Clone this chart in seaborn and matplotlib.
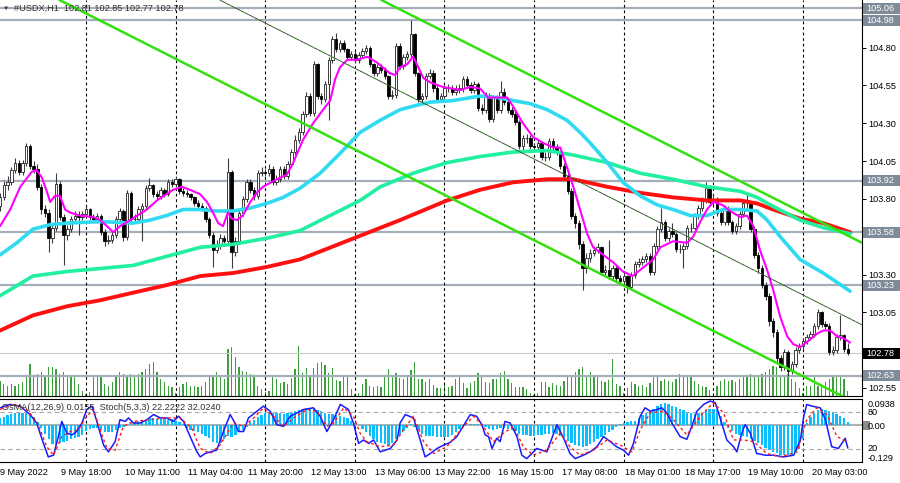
import numpy as np
import pandas as pd
import seaborn as sns
import matplotlib.pyplot as plt
from matplotlib.patches import Rectangle
from matplotlib import transforms

sns.set_theme(style="white")
plt.rcParams['font.family'] = ['Liberation Sans', 'DejaVu Sans']
FS = 6.6

# hourly bars: (day, first hour, number of bars)
days = [("9 May", 1, 23), ("10 May", 0, 24), ("11 May", 0, 24), ("12 May", 0, 24),
        ("13 May", 0, 24), ("16 May", 0, 24), ("17 May", 0, 24), ("18 May", 0, 24),
        ("19 May", 0, 24), ("20 May", 0, 13)]

tick_times = ["9 May 01:00", "9 May 18:00", "10 May 11:00", "11 May 04:00", "11 May 20:00",
              "12 May 13:00", "13 May 06:00", "13 May 22:00", "16 May 15:00", "17 May 08:00",
              "18 May 01:00", "18 May 17:00", "19 May 10:00", "20 May 03:00"]
tick_labels = ["9 May 2022"] + tick_times[1:]

opens = [103.75, 103.81, 103.89, 103.91, 103.99, 104.04, 103.98, 104.04, 104.15, 104.02, 104.00, 103.88,
         103.73, 103.71, 103.54, 103.61, 103.90, 103.68, 103.56, 103.60, 103.67, 103.69, 103.68, 103.70,
         103.73, 103.68, 103.67, 103.69, 103.58, 103.52, 103.53, 103.56, 103.67, 103.72, 103.55, 103.84,
         103.67, 103.67, 103.73, 103.75, 103.87, 103.89, 103.83, 103.82, 103.86, 103.83, 103.91, 103.90,
         103.93, 103.85, 103.84, 103.83, 103.81, 103.77, 103.75, 103.74, 103.67, 103.56, 103.46, 103.50,
         103.54, 103.52, 103.98, 103.45, 103.52, 103.71, 103.80, 103.91, 103.86, 103.82, 103.97, 103.98,
         103.97, 104.00, 103.91, 103.93, 104.00, 103.95, 104.03, 104.11, 104.19, 104.24, 104.36, 104.48,
         104.37, 104.69, 104.48, 104.46, 104.56, 104.72, 104.86, 104.79, 104.83, 104.79, 104.74, 104.76,
         104.72, 104.75, 104.78, 104.80, 104.69, 104.63, 104.67, 104.65, 104.61, 104.48, 104.49, 104.81,
         104.68, 104.74, 104.76, 104.89, 104.63, 104.46, 104.48, 104.61, 104.63, 104.53, 104.46, 104.48,
         104.53, 104.53, 104.51, 104.52, 104.53, 104.59, 104.55, 104.52, 104.56, 104.40, 104.39, 104.49,
         104.33, 104.47, 104.39, 104.51, 104.44, 104.39, 104.36, 104.31, 104.15, 104.20, 104.20, 104.15,
         104.14, 104.17, 104.08, 104.08, 104.18, 104.14, 104.11, 104.02, 103.95, 103.85, 103.69, 103.64,
         103.50, 103.34, 103.41, 103.44, 103.46, 103.48, 103.32, 103.33, 103.29, 103.34, 103.28, 103.26,
         103.29, 103.22, 103.30, 103.37, 103.38, 103.40, 103.42, 103.32, 103.49, 103.60, 103.65, 103.54,
         103.59, 103.57, 103.47, 103.47, 103.49, 103.61, 103.61, 103.69, 103.74, 103.79, 103.87, 103.78,
         103.80, 103.71, 103.65, 103.74, 103.65, 103.59, 103.62, 103.70, 103.77, 103.77, 103.60, 103.43,
         103.34, 103.23, 103.16, 102.99, 102.92, 102.75, 102.69, 102.79, 102.66, 102.71, 102.80, 102.83,
         102.86, 102.89, 102.91, 102.96, 103.05, 102.97, 102.96, 102.79, 102.80, 102.89, 102.90, 102.81]

highs = [103.84, 103.92, 103.95, 104.01, 104.07, 104.06, 104.06, 104.17, 104.16, 104.05, 104.03, 103.90,
         103.76, 103.73, 103.64, 103.97, 103.92, 103.70, 103.63, 103.69, 103.72, 103.72, 103.72, 103.75,
         103.74, 103.70, 103.71, 103.70, 103.60, 103.56, 103.58, 103.69, 103.74, 103.73, 103.86, 103.85,
         103.70, 103.75, 103.77, 103.89, 103.94, 103.90, 103.85, 103.88, 103.87, 103.93, 103.93, 103.95,
         103.94, 103.87, 103.86, 103.84, 103.82, 103.79, 103.77, 103.75, 103.68, 103.58, 103.53, 103.57,
         103.56, 104.07, 103.99, 103.55, 103.73, 103.82, 103.93, 103.93, 103.88, 103.99, 104.01, 104.00,
         104.03, 104.02, 103.96, 104.02, 104.02, 104.05, 104.13, 104.22, 104.27, 104.38, 104.51, 104.50,
         104.71, 104.70, 104.50, 104.58, 104.74, 104.88, 104.90, 104.85, 104.85, 104.80, 104.78, 104.78,
         104.77, 104.80, 104.82, 104.81, 104.70, 104.69, 104.69, 104.67, 104.62, 104.52, 104.83, 104.83,
         104.76, 104.78, 104.98, 104.90, 104.64, 104.50, 104.63, 104.66, 104.65, 104.55, 104.50, 104.55,
         104.56, 104.55, 104.55, 104.56, 104.61, 104.61, 104.57, 104.58, 104.57, 104.43, 104.51, 104.50,
         104.49, 104.49, 104.58, 104.53, 104.46, 104.41, 104.38, 104.32, 104.22, 104.23, 104.22, 104.17,
         104.19, 104.18, 104.11, 104.20, 104.20, 104.16, 104.12, 104.04, 103.97, 103.87, 103.71, 103.66,
         103.52, 103.44, 103.47, 103.49, 103.51, 103.49, 103.36, 103.53, 103.36, 103.36, 103.30, 103.31,
         103.30, 103.32, 103.39, 103.41, 103.42, 103.44, 103.44, 103.51, 103.62, 103.74, 103.66, 103.61,
         103.64, 103.58, 103.50, 103.51, 103.63, 103.64, 103.71, 103.76, 103.81, 103.91, 103.89, 103.83,
         103.81, 103.73, 103.76, 103.75, 103.66, 103.64, 103.72, 103.79, 103.84, 103.78, 103.62, 103.45,
         103.36, 103.25, 103.18, 103.01, 102.94, 102.77, 102.81, 102.80, 102.73, 102.82, 102.85, 102.88,
         102.91, 102.93, 102.98, 103.07, 103.06, 102.99, 102.98, 102.83, 102.91, 103.03, 102.91, 102.85]

lows = [103.72, 103.79, 103.86, 103.89, 103.97, 103.96, 103.96, 104.02, 104.00, 103.97, 103.86, 103.70,
        103.68, 103.45, 103.51, 103.59, 103.66, 103.36, 103.53, 103.58, 103.65, 103.56, 103.66, 103.68,
        103.66, 103.65, 103.64, 103.56, 103.49, 103.50, 103.51, 103.54, 103.65, 103.52, 103.53, 103.65,
        103.64, 103.65, 103.52, 103.73, 103.85, 103.81, 103.79, 103.80, 103.81, 103.82, 103.88, 103.88,
        103.83, 103.82, 103.81, 103.79, 103.75, 103.73, 103.72, 103.65, 103.54, 103.35, 103.44, 103.47,
        103.49, 103.50, 103.34, 103.42, 103.50, 103.69, 103.78, 103.84, 103.79, 103.80, 103.95, 103.95,
        103.95, 103.89, 103.89, 103.91, 103.93, 103.93, 104.01, 104.09, 104.17, 104.22, 104.34, 104.35,
        104.35, 104.46, 104.43, 104.44, 104.32, 104.70, 104.77, 104.77, 104.77, 104.72, 104.72, 104.70,
        104.70, 104.73, 104.76, 104.67, 104.61, 104.61, 104.63, 104.59, 104.46, 104.46, 104.47, 104.66,
        104.66, 104.72, 104.74, 104.61, 104.44, 104.44, 104.46, 104.59, 104.51, 104.44, 104.44, 104.46,
        104.51, 104.49, 104.49, 104.50, 104.51, 104.53, 104.50, 104.50, 104.38, 104.36, 104.37, 104.31,
        104.31, 104.37, 104.37, 104.42, 104.37, 104.34, 104.29, 104.13, 104.12, 104.17, 104.13, 104.12,
        104.12, 104.06, 104.05, 104.06, 104.12, 104.09, 104.00, 103.93, 103.83, 103.67, 103.61, 103.47,
        103.20, 103.31, 103.38, 103.42, 103.44, 103.30, 103.30, 103.27, 103.27, 103.26, 103.24, 103.24,
        103.18, 103.20, 103.28, 103.35, 103.36, 103.38, 103.30, 103.30, 103.47, 103.58, 103.52, 103.52,
        103.55, 103.45, 103.44, 103.34, 103.47, 103.58, 103.59, 103.67, 103.72, 103.77, 103.76, 103.76,
        103.69, 103.63, 103.63, 103.63, 103.57, 103.57, 103.60, 103.68, 103.74, 103.58, 103.41, 103.31,
        103.21, 103.13, 102.96, 102.89, 102.72, 102.66, 102.67, 102.63, 102.64, 102.69, 102.78, 102.81,
        102.84, 102.87, 102.89, 102.94, 102.95, 102.94, 102.77, 102.77, 102.78, 102.87, 102.79, 102.77]

closes = [103.81, 103.89, 103.91, 103.99, 104.04, 103.98, 104.04, 104.15, 104.02, 104.00, 103.88, 103.73,
          103.71, 103.54, 103.61, 103.90, 103.68, 103.56, 103.60, 103.67, 103.69, 103.68, 103.70, 103.73,
          103.68, 103.67, 103.69, 103.58, 103.52, 103.53, 103.56, 103.67, 103.72, 103.55, 103.84, 103.67,
          103.67, 103.73, 103.75, 103.87, 103.89, 103.83, 103.82, 103.86, 103.83, 103.91, 103.90, 103.93,
          103.85, 103.84, 103.83, 103.81, 103.77, 103.75, 103.74, 103.67, 103.56, 103.46, 103.50, 103.54,
          103.52, 103.98, 103.45, 103.52, 103.71, 103.80, 103.91, 103.86, 103.82, 103.97, 103.98, 103.97,
          104.00, 103.91, 103.93, 104.00, 103.95, 104.03, 104.11, 104.19, 104.24, 104.36, 104.48, 104.37,
          104.69, 104.48, 104.46, 104.56, 104.72, 104.86, 104.79, 104.83, 104.79, 104.74, 104.76, 104.72,
          104.75, 104.78, 104.80, 104.69, 104.63, 104.67, 104.65, 104.61, 104.48, 104.49, 104.81, 104.68,
          104.74, 104.76, 104.89, 104.63, 104.46, 104.48, 104.61, 104.63, 104.53, 104.46, 104.48, 104.53,
          104.53, 104.51, 104.52, 104.53, 104.59, 104.55, 104.52, 104.56, 104.40, 104.39, 104.49, 104.33,
          104.47, 104.39, 104.51, 104.44, 104.39, 104.36, 104.31, 104.15, 104.20, 104.20, 104.15, 104.14,
          104.17, 104.08, 104.08, 104.18, 104.14, 104.11, 104.02, 103.95, 103.85, 103.69, 103.64, 103.50,
          103.34, 103.41, 103.44, 103.46, 103.48, 103.32, 103.33, 103.29, 103.34, 103.28, 103.26, 103.29,
          103.22, 103.30, 103.37, 103.38, 103.40, 103.42, 103.32, 103.49, 103.60, 103.65, 103.54, 103.59,
          103.57, 103.47, 103.47, 103.49, 103.61, 103.61, 103.69, 103.74, 103.79, 103.87, 103.78, 103.80,
          103.71, 103.65, 103.74, 103.65, 103.59, 103.62, 103.70, 103.77, 103.77, 103.60, 103.43, 103.34,
          103.23, 103.16, 102.99, 102.92, 102.75, 102.69, 102.79, 102.66, 102.71, 102.80, 102.83, 102.86,
          102.89, 102.91, 102.96, 103.05, 102.97, 102.96, 102.79, 102.80, 102.89, 102.90, 102.81, 102.78]

volumes = [15, 12, 10, 12, 10, 12, 14, 19, 32, 20, 22, 24,
           20, 29, 29, 27, 22, 24, 20, 19, 19, 12, 5, 2,
           4, 19, 19, 19, 12, 10, 14, 19, 24, 22, 20, 22,
           20, 22, 24, 27, 32, 34, 24, 17, 14, 10, 9, 3,
           9, 12, 14, 10, 10, 9, 10, 14, 19, 20, 24, 20,
           17, 47, 49, 39, 29, 25, 24, 22, 20, 10, 7, 4,
           5, 19, 17, 13, 14, 12, 18, 27, 50, 23, 28, 21,
           28, 33, 34, 31, 23, 28, 16, 15, 21, 21, 7, 2,
           3, 12, 17, 10, 9, 10, 9, 21, 27, 19, 23, 18,
           17, 21, 26, 34, 17, 17, 14, 17, 11, 8, 8, 13,
           9, 10, 17, 21, 13, 8, 13, 15, 23, 19, 14, 13,
           17, 17, 23, 25, 17, 13, 9, 9, 9, 7, 3, 1,
           3, 14, 14, 9, 13, 11, 10, 15, 19, 20, 24, 27,
           29, 19, 24, 20, 19, 15, 14, 16, 37, 12, 10, 3,
           8, 14, 12, 10, 11, 9, 13, 19, 19, 15, 17, 15,
           14, 17, 22, 20, 21, 19, 15, 12, 10, 9, 6, 3,
           10, 15, 17, 15, 16, 14, 17, 19, 20, 22, 20, 20,
           22, 24, 27, 30, 29, 20, 19, 22, 17, 14, 8, 3,
           10, 10, 19, 10, 12, 14, 17, 20, 20, 19, 17, 5]

osma = [0.032, 0.038, 0.045, 0.05, 0.052, 0.053, 0.053, 0.052, 0.048, 0.035, 0.015, -0.01,
        -0.035, -0.06, -0.08, -0.085, -0.075, -0.07, -0.065, -0.06, -0.055, -0.048, -0.04, -0.025,
        -0.015, -0.01, -0.012, -0.02, -0.028, -0.03, -0.028, -0.02, -0.01, -0.005, 0.008, 0.012,
        0.015, 0.02, 0.022, 0.025, 0.03, 0.03, 0.028, 0.028, 0.027, 0.025, 0.026, 0.02,
        0.015, 0.005, -0.01, -0.02, -0.025, -0.03, -0.035, -0.045, -0.055, -0.07, -0.075, -0.075,
        -0.06, -0.045, -0.05, -0.04, -0.03, -0.02, -0.005, 0.015, 0.025, 0.035, 0.045, 0.052,
        0.055, 0.055, 0.053, 0.052, 0.05, 0.052, 0.055, 0.06, 0.065, 0.07, 0.075, 0.073,
        0.07, 0.068, 0.06, 0.055, 0.05, 0.05, 0.045, 0.04, 0.035, 0.03, 0.02, 0.01,
        0.0, -0.015, -0.03, -0.045, -0.06, -0.07, -0.075, -0.08, -0.082, -0.075, -0.06, -0.04,
        -0.025, -0.01, 0.005, -0.005, -0.02, -0.035, -0.045, -0.045, -0.045, -0.048, -0.05, -0.05,
        -0.048, -0.04, -0.03, -0.015, -0.005, 0.0, 0.005, 0.008, 0.008, 0.005, -0.005, -0.015,
        -0.018, -0.015, -0.01, -0.01, -0.015, -0.02, -0.025, -0.035, -0.04, -0.042, -0.045, -0.045,
        -0.043, -0.04, -0.038, -0.035, -0.033, -0.035, -0.045, -0.055, -0.065, -0.075, -0.085, -0.09,
        -0.093, -0.09, -0.08, -0.07, -0.06, -0.05, -0.04, -0.03, -0.02, -0.005, 0.005, 0.01,
        0.015, 0.02, 0.02, 0.03, 0.045, 0.055, 0.06, 0.07, 0.085, 0.09, 0.094, 0.09,
        0.085, 0.08, 0.072, 0.065, 0.058, 0.052, 0.048, 0.052, 0.058, 0.065, 0.07, 0.07,
        0.065, 0.04, 0.015, -0.01, -0.025, -0.035, -0.04, -0.045, -0.05, -0.058, -0.065, -0.075,
        -0.085, -0.095, -0.105, -0.112, -0.118, -0.125, -0.128, -0.129, -0.127, -0.12, -0.1, -0.06,
        0.01, 0.035, 0.055, 0.068, 0.07, 0.066, 0.062, 0.056, 0.05, 0.042, 0.03, 0.0155]

# moving averages (bar position, price)
ma_fast_bar = [0, 2.7, 5.4, 8.5, 9.8, 11.2, 12.5, 13.4, 14.7, 16, 17.4, 18.7, 21.4, 24.9, 26.8, 28.6,
               30.3, 32.1, 34.8, 39.3, 42, 46.3, 48.7, 50.9, 53.6, 55.4, 57, 58.4, 59.7, 61, 62, 63.4,
               65, 67, 68.7, 70.4, 74.1, 76.8, 78.5, 81.1, 83.8, 86.5, 88.4, 89.7, 91, 93, 95.6, 98.3,
               101, 104.4, 105.8, 107.1, 109, 110.6, 112, 113.3, 115.2, 118.6, 123.2, 125.9, 128.5,
               130.7, 135.8, 137.4, 140, 142.7, 145.4, 148.1, 150, 151.8, 153.5, 155.3, 157.2, 158.8,
               161.5, 164.2, 166.8, 169.3, 171.4, 174.9, 176.8, 180.2, 184, 185.6, 187.5, 189.3, 191,
               193.4, 195.5, 198.2, 200, 201.7, 203.5, 205.4, 207, 208.9, 210.8, 212.4, 214.2, 216.9,
               218.8, 220.4, 222.3, 224.2, 225.8, 227.6]
ma_fast = [103.62, 103.73, 103.88, 103.98, 103.99, 103.94, 103.85, 103.78, 103.82, 103.82, 103.73,
           103.71, 103.69, 103.68, 103.66, 103.62, 103.58, 103.62, 103.66, 103.73, 103.79, 103.86,
           103.88, 103.86, 103.83, 103.78, 103.71, 103.64, 103.62, 103.71, 103.67, 103.66, 103.69,
           103.78, 103.84, 103.88, 103.93, 103.96, 104.04, 104.19, 104.30, 104.39, 104.45, 104.59,
           104.67, 104.72, 104.72, 104.74, 104.70, 104.63, 104.62, 104.67, 104.69, 104.74, 104.67,
           104.60, 104.57, 104.54, 104.52, 104.54, 104.53, 104.47, 104.47, 104.41, 104.30, 104.21,
           104.17, 104.14, 104.14, 104.01, 103.88, 103.73, 103.57, 103.48, 103.43, 103.38, 103.32,
           103.29, 103.33, 103.40, 103.48, 103.52, 103.51, 103.55, 103.65, 103.73, 103.78, 103.76,
           103.72, 103.68, 103.69, 103.62, 103.46, 103.33, 103.20, 103.02, 102.89, 102.84, 102.82,
           102.87, 102.91, 102.93, 102.93, 102.89, 102.88, 102.85]

ma_cyan_bar = [0, 4.5, 8.8, 13.4, 17.9, 26.8, 35.6, 40.2, 44.6, 49, 53.6, 58, 62.4, 67, 71.4, 75.8,
               80.3, 85.7, 91, 96.4, 101.8, 107.1, 111.7, 115.2, 121.3, 128.5, 133.1, 137.4, 141.9,
               146.5, 151.8, 155.3, 158, 162.6, 166.8, 171.4, 176, 180.2, 184.8, 189.3, 193.6, 198.2,
               202.7, 205.4, 208.9, 214.2, 220.4, 227.6]
ma_cyan = [103.43, 103.51, 103.60, 103.63, 103.64, 103.65, 103.64, 103.66, 103.69, 103.73, 103.73,
           103.72, 103.72, 103.74, 103.77, 103.81, 103.87, 103.97, 104.10, 104.24, 104.32, 104.39,
           104.42, 104.44, 104.45, 104.48, 104.47, 104.45, 104.43, 104.39, 104.32, 104.24, 104.17,
           104.04, 103.91, 103.82, 103.76, 103.73, 103.69, 103.69, 103.73, 103.73, 103.72, 103.66,
           103.55, 103.40, 103.31, 103.19]

ma_green_bar = [0, 8.8, 17.9, 26.8, 35.6, 44.6, 53.6, 62.4, 71.4, 80.3, 96.4, 101.8, 110.6, 119.7,
                128.5, 137.4, 146.5, 153.5, 162.6, 171.4, 180.2, 189.3, 198.2, 202.7, 207, 214.2,
                220.4, 227.6]
ma_green = [103.16, 103.29, 103.32, 103.34, 103.36, 103.42, 103.48, 103.50, 103.54, 103.59, 103.79,
            103.88, 103.97, 104.04, 104.08, 104.11, 104.12, 104.09, 104.04, 103.97, 103.93, 103.88,
            103.85, 103.81, 103.75, 103.66, 103.61, 103.57]

ma_red_bar = [0, 8.8, 17.9, 26.8, 35.6, 44.6, 53.6, 62.4, 71.4, 80.3, 93.7, 107.1, 119.7, 128.5,
              137.4, 146.5, 153.5, 162.6, 171.4, 180.2, 189.3, 198.2, 202.7, 207, 214.2, 220.4, 227.6]
ma_red = [102.93, 103.03, 103.09, 103.13, 103.18, 103.23, 103.29, 103.31, 103.35, 103.40, 103.53,
          103.66, 103.79, 103.86, 103.91, 103.93, 103.93, 103.88, 103.84, 103.81, 103.79, 103.79,
          103.77, 103.73, 103.67, 103.64, 103.58]

# channel lines: two (bar, price) points each
chan_upper = ([101.7, 230.8], [105.12, 103.51])
chan_mid = ([58.4, 229.8], [105.12, 102.98])
chan_lower = ([15.5, 227.6], [105.12, 102.47])

levels = [105.06, 104.98, 103.92, 103.58, 103.23, 102.63]
last_price = 102.78
price_ticks = [102.55, 102.80, 103.05, 103.30, 103.55, 103.80, 104.05, 104.30, 104.55, 104.80]

stoch_bar = [0, 1.3, 2.7, 5.4, 8, 9.8, 11.6, 12.9, 14.3, 15.6, 16.5, 17.9, 19.2, 20.5, 21.9, 23.2,
             24.6, 25.9, 27.7, 29, 30.8, 32.1, 33.5, 34.4, 35.7, 37.5, 39.3, 41.1, 42.9, 44.6, 46.4,
             47.8, 49.1, 50.9, 52.7, 53.6, 54.9, 56.3, 58, 59.8, 61.6, 62.9, 63.8, 65.2, 66.5, 68.8,
             70.5, 72.3, 74.1, 75.9, 77.7, 79.5, 81.3, 83.9, 85.7, 87.5, 89.3, 91.1, 93.3, 94.6, 96,
             97.3, 98.7, 100, 101.8, 104.5, 106.3, 107.1, 108.5, 110.7, 112.5, 113.8, 115.2, 117,
             118.8, 120.5, 122.3, 124.5, 125.9, 127.6, 129, 129.9, 130.8, 131.7, 133, 133.9, 135.2,
             136.6, 138.4, 139.7, 141, 142.4, 143.7, 146.4, 149.1, 150.9, 152.6, 154, 156.2, 158,
             159.8, 161.6, 163.4, 165.1, 166.9, 168.3, 169.6, 171.4, 172.7, 174.1, 175.9, 177.2,
             178.5, 179.9, 182.1, 183.9, 185.2, 186.6, 188.4, 190.1, 191.5, 192.8, 194.6, 196.4,
             197.3, 198.6, 199.5, 200.9, 202.6, 204.9, 207.1, 209.8, 212.5, 214.3, 215.2, 216,
             217.4, 219.6, 221, 222.7, 224.5, 226.3, 227]
stoch_main = [86, 88.7, 91.4, 88.7, 75.3, 61.8, 29.6, 8.1, 10.8, 40.3, 64.5, 45.7, 43, 48.4, 61.8,
              83.3, 88.7, 64.5, 26.9, 16.1, 32.3, 67.2, 64.5, 69.9, 61.8, 61.8, 67.2, 75.3, 69.9,
              69.9, 64.5, 72.6, 64.5, 40.3, 16.1, 8.1, 13.5, 16.1, 18.8, 48.4, 75.3, 61.8, 48.4,
              48.4, 69.9, 80.7, 88.7, 80.7, 59.2, 56.5, 72.6, 78, 83.3, 86, 72.6, 48.4, 67.2, 91.4,
              83.3, 61.8, 29.6, 35, 29.6, 35, 16.1, 21.5, 35, 61.8, 75.3, 69.9, 35, 8.1, 13.5, 21.5,
              26.9, 31, 40.3, 61.8, 75.3, 72.6, 59.2, 43, 40.3, 21.5, 37.7, 32.3, 64.5, 61.8, 40.3,
              10.8, 5.4, 13.5, 21.5, 16.1, 59.2, 37.7, 13.5, 5.4, 10.8, 16.1, 24.2, 40.3, 32.3,
              24.2, 18.8, 10.8, 29.6, 72.6, 86, 80.7, 83.3, 86, 78, 61.8, 40.3, 36, 56.5, 80.7,
              91.4, 96.8, 94.1, 69.9, 35, 24.2, 16.1, 45.7, 59.2, 45.7, 13.5, 10.8, 10.8, 8.1,
              10.8, 35, 72.6, 91.4, 88.7, 86, 67.2, 24.2, 21.5, 37.7, 22.2]

signal_bar = [0, 3.6, 7.1, 9.8, 12.5, 14.3, 16.5, 18.8, 21, 23.2, 25, 26.8, 28.6, 30.8, 33, 35.7,
              40.2, 44.6, 48.2, 51.3, 53.6, 56.3, 58.9, 62.5, 65.2, 67.9, 70.5, 73.2, 75.9, 78.6,
              82.1, 84.8, 87.5, 89.3, 92, 94.6, 96.4, 98.2, 101.8, 105.4, 108, 110.7, 113.4, 116.1,
              119.6, 124.1, 126.8, 129.4, 132.1, 134.8, 137.5, 140.1, 142.8, 146.4, 150, 152.6,
              155.3, 158.9, 162.5, 166, 169.2, 171.4, 174.1, 177.6, 180.3, 183.9, 187.5, 191,
              193.7, 196.4, 199.1, 201.8, 205.3, 208.9, 213.4, 216, 218.7, 221.4, 224.1, 227]
stoch_signal = [83.3, 91.4, 83.3, 64.5, 24.2, 10.8, 40.3, 48.4, 51.1, 72.6, 83.3, 51.1, 21.5, 18.8,
                56.5, 64.5, 67.2, 69.9, 69.9, 53.8, 21.5, 13.5, 26.9, 61.8, 56.5, 69.9, 86, 72.6,
                56.5, 69.9, 83.3, 80.7, 56.5, 61.8, 86, 72.6, 45.7, 32.3, 24.2, 26.9, 51.1, 72.6,
                32.3, 13.5, 24.2, 56.5, 72.6, 56.5, 32.3, 45.7, 56.5, 24.2, 10.8, 18.8, 45.7, 24.2,
                10.8, 18.8, 35, 26.9, 16.1, 51.1, 78, 80.7, 67.2, 43, 72.6, 94.1, 78, 35, 35, 32.3,
                13.5, 8.1, 16.1, 67.2, 86, 75.3, 40.3, 32.0]

# ---------------------------------------------------------------
bar_times = []
for day, h0, n in days:
    bar_times += ["%s %02d:00" % (day, h) for h in range(h0, h0 + n)]
day_starts = list(np.cumsum([n for _, _, n in days])[:-1])
tick_pos = [max(bar_times.index(t) - 0.65, 0) for t in tick_times]

df = pd.DataFrame({"open": opens, "high": highs, "low": lows, "close": closes, "vol": volumes, "osma": osma})
df["bar"] = np.arange(len(df))

W, H = 900, 483
fig = plt.figure(figsize=(9, 4.83), dpi=100)
rect_main = [0, 87 / H, 862 / W, 396 / H]
rect_sub = [0, 21 / H, 862 / W, 63 / H]
XLIM = (-0.03, 230.8)

# volumes sit behind the price axes
vax = fig.add_axes(rect_main)
vax.bar(df["bar"], df["vol"], width=0.34, color="#3b9f3b", linewidth=0)
vax.set_ylim(0, 396)
vax.set_xlim(*XLIM)
vax.axis("off")

ax = fig.add_axes(rect_main)
ax.patch.set_alpha(0)
ax.set_xlim(*XLIM)
ax.set_ylim(102.497, 105.115)

for lv in levels:
    ax.axhline(lv, color="#a4aeb9", lw=1.6, zorder=1)
ax.axhline(last_price, color="#c8c8c8", lw=0.8, zorder=1)
for d in day_starts:
    ax.axvline(d, color="black", lw=0.8, ls=(0, (2.5, 2.5)), zorder=1.5)

# candles
up = df["close"] >= df["open"]
body_lo = df[["open", "close"]].min(axis=1)
body_h = (df["close"] - df["open"]).abs()
ax.vlines(df["bar"], df["low"], df["high"], color="#3c3c3c", lw=0.8, zorder=3)
ax.bar(df["bar"][up], body_h[up], bottom=body_lo[up], width=0.66, color="white",
       edgecolor="#202020", linewidth=0.6, zorder=4)
ax.bar(df["bar"][~up], body_h[~up], bottom=body_lo[~up], width=0.66, color="black",
       edgecolor="black", linewidth=0.6, zorder=4)

# moving averages
sns.lineplot(x=ma_red_bar, y=ma_red, ax=ax, color="#ff1010", linewidth=2.8, sort=False, zorder=5)
sns.lineplot(x=ma_green_bar, y=ma_green, ax=ax, color="#20f0a0", linewidth=2.6, sort=False, zorder=5)
sns.lineplot(x=ma_cyan_bar, y=ma_cyan, ax=ax, color="#30daf0", linewidth=2.6, sort=False, zorder=5)
sns.lineplot(x=ma_fast_bar, y=ma_fast, ax=ax, color="#ff00ff", linewidth=1.5, sort=False, zorder=6)

# equidistant channel
ax.axline((chan_upper[0][0], chan_upper[1][0]), (chan_upper[0][1], chan_upper[1][1]),
          color="#33e010", lw=1.8, zorder=6)
ax.axline((chan_lower[0][0], chan_lower[1][0]), (chan_lower[0][1], chan_lower[1][1]),
          color="#33e010", lw=1.8, zorder=6)
ax.axline((chan_mid[0][0], chan_mid[1][0]), (chan_mid[0][1], chan_mid[1][1]),
          color="#303030", lw=0.6, zorder=6)
ax.axline((chan_mid[0][0], chan_mid[1][0]), (chan_mid[0][1], chan_mid[1][1]),
          color="#44e020", lw=0.7, ls=(0, (1, 3)), zorder=6)

# price scale: labels hidden under the price tags stay blank
tagged = levels + [last_price]
price_labels = ["" if min(abs(p - t) for t in tagged) < 0.04 else "%.2f" % p for p in price_ticks]
ax.set_xticks([])
ax.yaxis.tick_right()
ax.set_yticks(price_ticks, price_labels)
ax.tick_params(axis="y", length=3, width=0.7, direction="out", pad=1.5, labelsize=FS,
               colors="black", right=True)
for s in ["left", "top"]:
    ax.spines[s].set_visible(False)
for s in ["right", "bottom"]:
    ax.spines[s].set_color("black")
    ax.spines[s].set_linewidth(0.8)
ax.set_xlabel("")
ax.set_ylabel("")

# price tags on the right scale
blend = transforms.blended_transform_factory(ax.transAxes, ax.transData)
half = 0.037
for lv in tagged:
    fc = "black" if lv == last_price else "#7f8b98"
    ax.add_patch(Rectangle((1.0012, lv - half), 0.0435, 2 * half, transform=blend,
                           facecolor=fc, edgecolor="none", clip_on=False, zorder=10))
    ax.text(1.0046, lv, "%.2f" % lv, transform=blend, ha="left", va="center", fontsize=FS,
            color="white", clip_on=False, zorder=11)

# ---- OsMA + Stochastic panel
axo = fig.add_axes(rect_sub)
axo.set_xlim(*XLIM)
axo.bar(df["bar"], df["osma"], width=0.62, color="#0abfff", linewidth=0, zorder=2)
axo.set_ylim(-0.157, 0.113)
axo.axhline(0, color="#a8a8a8", lw=1.3, zorder=1)
for d in day_starts:
    axo.axvline(d, color="black", lw=0.8, ls=(0, (2.5, 2.5)), zorder=1.5)

axs = axo.twinx()
axs.set_ylim(0, 100)
axs.set_xlim(*XLIM)
for lv in [20, 80]:
    axs.axhline(lv, color="#a8a8a8", lw=0.8, ls=(0, (4, 3)), zorder=1)
sns.lineplot(x=stoch_bar, y=stoch_main, ax=axs, color="#1a1aff", linewidth=1.1, sort=False, zorder=4)
sns.lineplot(x=signal_bar, y=stoch_signal, ax=axs, color="#ff1a1a", linewidth=1.0, sort=False,
             linestyle=(0, (2, 2)), zorder=4)
axs.set_yticks([20, 80], ["20", "80"])
axs.tick_params(axis="y", length=0, pad=4, labelsize=FS, colors="black")
for s in axs.spines.values():
    s.set_visible(False)
axs.set_ylabel("")
axs.set_xlabel("")

# OsMA scale on the right as well (after twinx, which resets it to the left)
axo.yaxis.tick_right()
axo.yaxis.set_label_position("right")
axo.set_yticks([-0.129, 0.0, 0.0938], ["-0.129", "0.00", "0.0938"])
axo.set_xticks(tick_pos, tick_labels, ha="left")
axo.tick_params(axis="x", length=3, width=0.7, direction="out", pad=1.5, labelsize=FS, colors="black")
axo.tick_params(axis="y", left=False, right=True, labelleft=False, labelright=True,
                length=0, pad=4, labelsize=FS, colors="black")
axo.spines["left"].set_visible(False)
for s in ["right", "bottom", "top"]:
    axo.spines[s].set_color("black")
    axo.spines[s].set_linewidth(0.8)
blend_o = transforms.blended_transform_factory(axo.transAxes, axo.transData)
axo.add_patch(Rectangle((1.0012, -0.019), 0.0082, 0.039, transform=blend_o,
                        facecolor="#8a8a8a", edgecolor="none", clip_on=False, zorder=0.5))

# the stacked labels at the bottom of the panel: nudge them apart a little
for lab in axo.get_yticklabels():
    if lab.get_text() == "-0.129":
        lab.set_transform(lab.get_transform() + transforms.ScaledTranslation(0, -1.6 / 72, fig.dpi_scale_trans))
for lab in axs.get_yticklabels():
    if lab.get_text() == "20":
        lab.set_transform(lab.get_transform() + transforms.ScaledTranslation(0, 1.4 / 72, fig.dpi_scale_trans))

# header texts
fig.text(3 / W, 1 - 8.5 / H, "\u25bc", fontsize=4.5, color="#303030", va="center", ha="left")
fig.text(14 / W, 1 - 8 / H, "#USDX,H1  102.81 102.85 102.77 102.78", fontsize=FS,
         color="#303030", va="center", ha="left")
fig.text(2 / W, 1 - 407 / H, "OsMA(12,26,9) 0.0155  Stoch(5,3,3) 22.2222 32.0240", fontsize=FS,
         color="#303030", va="center", ha="left", zorder=20)

fig.savefig("out.png", dpi=100)
